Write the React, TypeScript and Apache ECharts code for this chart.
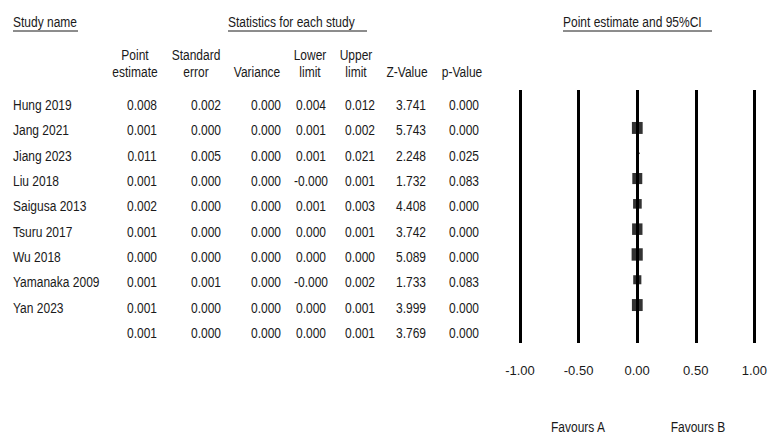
import React, { useEffect, useRef } from "react";
import * as echarts from "echarts";

const studyNames = [
  "Hung 2019", "Jang 2021", "Jiang 2023", "Liu 2018", "Saigusa 2013",
  "Tsuru 2017", "Wu 2018", "Yamanaka 2009", "Yan 2023", "",
];
const pointEstimate = [0.008, 0.001, 0.011, 0.001, 0.002, 0.001, 0.0, 0.001, 0.001, 0.001];
const standardError = [0.002, 0.0, 0.005, 0.0, 0.0, 0.0, 0.0, 0.001, 0.0, 0.0];
const variance = [0.0, 0.0, 0.0, 0.0, 0.0, 0.0, 0.0, 0.0, 0.0, 0.0];
const lowerLimit = [0.004, 0.001, 0.001, -0.0004, 0.001, 0.0, 0.0, -0.0004, 0.0, 0.0];
const upperLimit = [0.012, 0.002, 0.021, 0.001, 0.003, 0.001, 0.0, 0.002, 0.001, 0.001];
const zValue = [3.741, 5.743, 2.248, 1.732, 4.408, 3.742, 5.089, 1.733, 3.999, 3.769];
const pValue = [0.0, 0.0, 0.025, 0.083, 0.0, 0.0, 0.0, 0.083, 0.0, 0.0];
// relative study weights (marker size)
const relativeWeight = [0.3, 14, 0.3, 12, 9, 13, 15, 8, 14];
const xTicks = [-1, -0.5, 0, 0.5, 1];
const columnHeaders = ["Point\nestimate", "Standard\nerror", "Variance", "Lower\nlimit", "Upper\nlimit", "Z-Value", "p-Value"];
const favoursLabels = ["Favours A", "Favours B"];
const titles = ["Study name", "Statistics for each study", "Point estimate and 95%CI"];

const FONT = "'Liberation Sans', Arial, sans-serif";
const INK = "#1a1a1a";
const SQUEEZE = 0.8;

export default function App() {
  const ref = useRef<HTMLDivElement>(null);
  useEffect(() => {
    const chart = echarts.init(ref.current!, null, { renderer: "svg" });
    const gridTop = 90, gridBottomY = 343, gridLeft = 520, gridRightX = 758;
    const n = studyNames.length;
    const band = (gridBottomY - gridTop) / n;
    const rowY = (i: number) => gridTop + (i + 0.5) * band + 2.5;

    const columns = [pointEstimate, standardError, variance, lowerLimit, upperLimit, zValue, pValue];
    const colCenters = [142, 206, 266, 311, 360, 411, 464];
    const headCenters = [135, 196, 257, 310, 356, 407, 462];

    const graphics: any[] = [];
    const txt = (text: string, x: number, y: number, align: string, extra: any = {}) => ({
      type: "text", x, y, scaleX: SQUEEZE,
      style: { text, fill: INK, font: `15px ${FONT}`, align, verticalAlign: "middle", ...extra },
    });
    // titles
    const titleX = [13, 228, 563];
    const underlineEnd = [78, 367, 712];
    titles.forEach((t, k) => {
      graphics.push(txt(t, titleX[k], 22, "left"));
      graphics.push({ type: "line", shape: { x1: titleX[k], y1: 31, x2: underlineEnd[k], y2: 31 }, style: { stroke: INK, lineWidth: 1 } });
    });
    // column headers
    columnHeaders.forEach((h, c) => {
      graphics.push({
        type: "text", x: headCenters[c], y: 81, scaleX: SQUEEZE,
        style: { text: h, fill: INK, font: `15px ${FONT}`, align: "center", verticalAlign: "bottom", lineHeight: 17 },
      });
    });
    // rows
    studyNames.forEach((name, i) => {
      if (name) graphics.push(txt(name, 13, rowY(i), "left"));
      columns.forEach((col, c) => {
        graphics.push(txt(col[i].toFixed(3), colCenters[c], rowY(i), "center"));
      });
    });
    // favours
    const favX = [578, 698];
    favoursLabels.forEach((f, k) => graphics.push(txt(f, favX[k], 427, "center")));

    const scatterData = relativeWeight.map((w, i) => {
      const s = Math.sqrt(w) * 3.2;
      return { value: [pointEstimate[i], i], symbolSize: [Math.max(1.5, s * 0.9), Math.max(1.5, s)] };
    });
    const ciData = studyNames.map((_, i) => [lowerLimit[i], upperLimit[i], i, pointEstimate[i]]);

    chart.setOption({
      animation: false,
      grid: { left: gridLeft, right: 770 - gridRightX, top: gridTop, bottom: 436 - gridBottomY, containLabel: false },
      xAxis: {
        type: "value", min: -1, max: 1, interval: 0.5,
        axisLine: { show: false }, axisTick: { show: false },
        splitLine: { show: true, lineStyle: { color: "#000", width: 3 } },
        axisLabel: {
          margin: 21, color: INK, fontSize: 13, fontFamily: FONT,
          formatter: (v: number) => (xTicks.includes(v) ? v.toFixed(2) : ""),
        },
      },
      yAxis: {
        type: "category", inverse: true, data: studyNames.map((s, i) => s || "Summary" + i),
        show: false, boundaryGap: true,
      },
      series: [
        {
          type: "custom",
          data: ciData,
          renderItem: (params: any, api: any) => {
            const lo = api.coord([api.value(0), api.value(2)]);
            const hi = api.coord([api.value(1), api.value(2)]);
            const idx = api.value(2);
            if (idx === n - 1) {
              const mid = api.coord([api.value(3), api.value(2)]);
              return {
                type: "polygon",
                shape: { points: [[lo[0], lo[1]], [mid[0], mid[1] - 6], [hi[0], hi[1]], [mid[0], mid[1] + 6]] },
                style: { fill: "#000" },
              };
            }
            return { type: "line", shape: { x1: lo[0], y1: lo[1], x2: hi[0], y2: hi[1] }, style: { stroke: "#000", lineWidth: 1 } };
          },
          z: 3,
        },
        {
          type: "scatter",
          symbol: "rect",
          data: scatterData,
          itemStyle: { color: "#000" },
          z: 4,
        },
      ],
      graphic: graphics,
    });
    return () => chart.dispose();
  }, []);
  return <div ref={ref} style={{ position: "fixed", left: 0, top: 0, width: 770, height: 436, background: "#fff" }} />;
}
